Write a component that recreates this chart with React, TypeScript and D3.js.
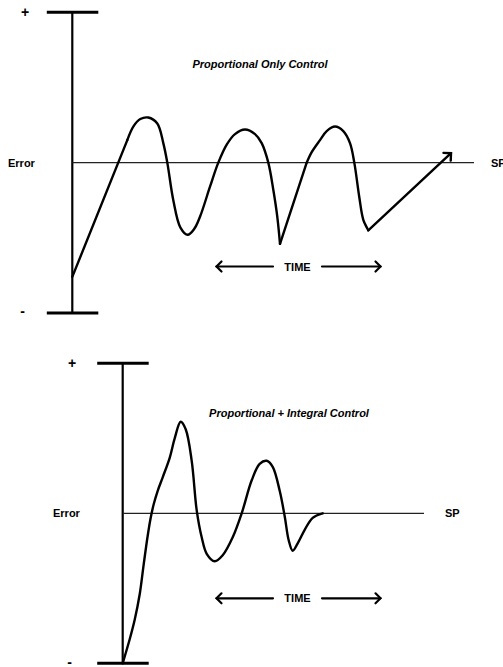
import React from "react";
import * as d3 from "d3";

type P = [number, number];

// ---- data: [time, error] ----
const TOP_RISE: P[] = [[0, -0.76], [55, 0.15]];
const TOP_WAVE1: P[] = [
  [55, 0.15], [61, 0.24], [68, 0.29], [76, 0.3], [85, 0.26], [91, 0.13], [95, 0],
  [101, -0.25], [108, -0.43], [115.4, -0.48], [122, -0.44], [127.7, -0.36], [137.7, -0.16],
  [146, 0], [154.4, 0.12], [162.7, 0.19], [172.7, 0.22], [182.7, 0.19], [189.4, 0.13],
  [196, 0], [201, -0.18], [205, -0.36], [207.7, -0.54],
];
const TOP_RISE2: P[] = [[207.7, -0.54], [234.4, 0]];
const TOP_WAVE2: P[] = [
  [234.4, 0], [239.4, 0.07], [247.7, 0.15], [254.4, 0.21], [262.7, 0.24], [271, 0.21],
  [277.7, 0.13], [282, 0], [287, -0.23], [291, -0.38], [296, -0.45],
];
const TOP_TAIL: P[] = [[296, -0.45], [378.7, 0.063]];

const BOTTOM_WAVE: P[] = [
  [0, -1], [7, -0.84], [12, -0.71], [17, -0.54], [21, -0.34], [25, -0.15], [28, -0.03],
  [31, 0.06], [35, 0.15], [40, 0.24], [47, 0.37], [52, 0.5], [58, 0.61], [63, 0.56],
  [69, 0.35], [74, 0.02], [79, -0.16], [84, -0.27], [92, -0.32], [100, -0.28], [110, -0.16],
  [119, 0], [129, 0.22], [137, 0.33], [144, 0.35], [150, 0.31], [157, 0.15], [162, -0.02],
  [166, -0.18], [170, -0.25], [175, -0.2], [182, -0.11], [190, -0.03], [200, 0],
];

const TITLES = ["Proportional Only Control", "Proportional + Integral Control"];
const Y_LABEL = "Error";
const SP_LABEL = "SP";
const TIME_LABEL = "TIME";

const FONT = "'Liberation Sans', Arial, sans-serif";

type Seg = { pts: P[]; smooth: boolean };

function Panel(props: {
  axisX: number; topY: number; botY: number; spEnd: number;
  segs: Seg[]; endArrow: boolean; title: string; titleX: number; titleY: number;
  plusX: number; errorX: number; spX: number; timeY: number;
}) {
  const { axisX, topY, botY, spEnd, segs, endArrow, title, titleX, titleY, plusX, errorX, spX, timeY } = props;
  const x = d3.scaleLinear().domain([0, 400]).range([axisX, axisX + 400]);
  const y = d3.scaleLinear().domain([-1, 1]).range([botY, topY]);
  const y0 = y(0);
  const paths = segs.map((s) =>
    d3.line<P>()
      .x((d) => x(d[0]))
      .y((d) => y(d[1]))
      .curve(s.smooth ? d3.curveCatmullRom.alpha(0.5) : d3.curveLinear)(s.pts) || ""
  );
  let arrow = "";
  if (endArrow) {
    const last = segs[segs.length - 1].pts;
    const a = last[last.length - 2], b = last[last.length - 1];
    const tx = x(b[0]), ty = y(b[1]);
    const ang = Math.atan2(y(a[1]) - ty, x(a[0]) - tx);
    const L = 7.5;
    const p1 = [tx + L * Math.cos(ang + Math.PI / 4), ty + L * Math.sin(ang + Math.PI / 4)];
    const p2 = [tx + L * Math.cos(ang - Math.PI / 4), ty + L * Math.sin(ang - Math.PI / 4)];
    arrow = `M${p1[0]},${p1[1]}L${tx},${ty}L${p2[0]},${p2[1]}`;
  }
  const tl0 = 216.5, tl1 = 273, tr0 = 322, tr1 = 380.5, ah = 5;
  return (
    <g>
      {/* axis */}
      <line x1={axisX} x2={axisX} y1={topY} y2={botY} stroke="#000" strokeWidth={2.2} />
      <line x1={axisX - 25.5} x2={axisX + 26} y1={topY} y2={topY} stroke="#000" strokeWidth={3} />
      <line x1={axisX - 25.5} x2={axisX + 26} y1={botY} y2={botY} stroke="#000" strokeWidth={3} />
      {/* set point */}
      <line x1={axisX} x2={spEnd} y1={y0} y2={y0} stroke="#222" strokeWidth={1.2} />
      {/* curve */}
      {paths.map((d, i) => (
        <path key={i} d={d} fill="none" stroke="#000" strokeWidth={2.4} strokeLinecap="round" strokeLinejoin="round" />
      ))}
      {arrow && <path d={arrow} fill="none" stroke="#000" strokeWidth={2.4} strokeLinecap="round" strokeLinejoin="miter" />}
      {/* TIME arrows */}
      <g fill="none" stroke="#000" strokeWidth={2.2} strokeLinecap="round">
        <line x1={tl0} x2={tl1} y1={timeY} y2={timeY} />
        <path d={`M${tl0 + ah},${timeY - ah}L${tl0},${timeY}L${tl0 + ah},${timeY + ah}`} />
        <line x1={tr0} x2={tr1} y1={timeY} y2={timeY} />
        <path d={`M${tr1 - ah},${timeY - ah}L${tr1},${timeY}L${tr1 - ah},${timeY + ah}`} />
      </g>
      <g fontFamily={FONT} fontWeight="bold" fill="#000" fontSize={11}>
        <text x={297.5} y={timeY + 4} textAnchor="middle">{TIME_LABEL}</text>
        <text x={plusX} y={topY + 5} textAnchor="middle" fontSize={14}>+</text>
        <text x={plusX - 2.5} y={botY + 3.3} textAnchor="middle" fontSize={14}>-</text>
        <text x={errorX} y={y0 + 4}>{Y_LABEL}</text>
        <text x={spX} y={y0 + 4}>{SP_LABEL}</text>
        <text x={titleX} y={titleY} textAnchor="middle" fontStyle="italic">{title}</text>
      </g>
    </g>
  );
}

export default function App() {
  return (
    <svg width={503} height={667} viewBox="0 0 503 667"
      style={{ position: "absolute", left: 0, top: 0, background: "#fff" }}>
      <rect width={503} height={667} fill="#fff" />
      <Panel axisX={72.3} topY={12.3} botY={313} spEnd={474}
        segs={[
          { pts: TOP_RISE, smooth: false },
          { pts: TOP_WAVE1, smooth: true },
          { pts: TOP_RISE2, smooth: false },
          { pts: TOP_WAVE2, smooth: true },
          { pts: TOP_TAIL, smooth: false },
        ]}
        endArrow={true} title={TITLES[0]} titleX={260} titleY={68.3}
        plusX={25} errorX={8} spX={491} timeY={266.5} />
      <Panel axisX={122.7} topY={363.3} botY={663.3} spEnd={424}
        segs={[{ pts: BOTTOM_WAVE, smooth: true }]}
        endArrow={false} title={TITLES[1]} titleX={289} titleY={417.3}
        plusX={72} errorX={53} spX={445} timeY={598.3} />
    </svg>
  );
}
